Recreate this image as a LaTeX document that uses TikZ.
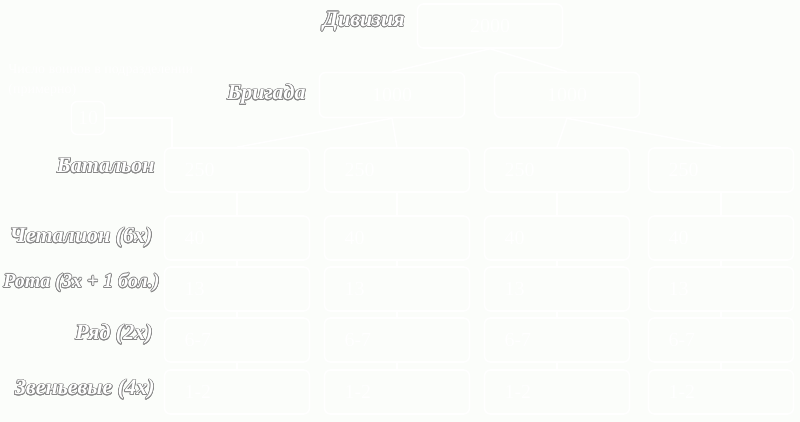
\documentclass[tikz,border=0pt]{standalone}
\usepackage{fontspec}
\setmainfont{Liberation Serif}
\usepackage{contour}
\contourlength{0.35pt}
\definecolor{bgc}{RGB}{251,253,250}
\definecolor{lbl}{RGB}{135,135,135}
\begin{document}
\begin{tikzpicture}[x=0.5pt,y=-0.5pt,
  box/.style={draw=white,line width=0.8pt,rounded corners=3pt,minimum width=72.5pt,minimum height=22pt,text=white,font=\fontsize{10}{12}\selectfont},
  lbox/.style={box,text width=52.5pt,align=left,inner xsep=10pt},
  conn/.style={draw=white,line width=0.8pt},
  rowlabel/.style={anchor=east,inner sep=0pt,font=\fontsize{11}{13}\selectfont\bfseries\itshape}]
\fill[bgc] (0,0) rectangle (800,422);
\useasboundingbox (0,0) rectangle (800,422);
% level labels
\node[rowlabel] (l1) at (405,22) {\contour{lbl}{\textcolor{white}{Дивизия}}};
\node[rowlabel] (l2) at (306,95) {\contour{lbl}{\textcolor{white}{Бригада}}};
\node[rowlabel] (l3) at (155,166) {\contour{lbl}{\textcolor{white}{Батальон}}};
\node[rowlabel] (l4) at (153,238) {\contour{lbl}{\textcolor{white}{Четалион (6x)}}};
\node[rowlabel,font=\fontsize{10}{12}\selectfont\bfseries\itshape] (l5) at (160,283) {\contour{lbl}{\textcolor{white}{Рота (3x + 1 бол.)}}};
\node[rowlabel] (l6) at (153,335) {\contour{lbl}{\textcolor{white}{Ряд (2x)}}};
\node[rowlabel] (l7) at (155,390) {\contour{lbl}{\textcolor{white}{Звеньевые (4x)}}};
% legend
\node[anchor=north west,inner sep=0pt,text=white,align=left,font=\fontsize{7}{10}\selectfont] (legend) at (8,64) {Число воинов в подразделении\\(примерно)};
\node[draw=white,line width=0.8pt,rounded corners=3pt,minimum width=15pt,minimum height=16.5pt,text=white,font=\fontsize{10}{12}\selectfont] (ten) at (88,118) {10};
% boxes
\node[box] (d) at (490,26) {2000};
\node[box,minimum height=22.5pt] (ba) at (392,95) {1000};
\node[box,minimum height=22.5pt] (bb) at (567,95) {1000};
\foreach \c/\x in {a/237,b/397,c/557,d/721}{
  \node[lbox] (r3\c) at (\x,170) {250};
  \node[lbox] (r4\c) at (\x,238) {40};
  \node[lbox] (r5\c) at (\x,289) {13};
  \node[lbox] (r6\c) at (\x,340) {6-7};
  \node[lbox] (r7\c) at (\x,392) {1-2};
}
% connectors
\draw[conn] (d.south) -- (ba.north);
\draw[conn] (d.south) -- (bb.north);
\draw[conn] (ba.south) -- (r3a.north);
\draw[conn] (ba.south) -- (r3b.north);
\draw[conn] (bb.south) -- (r3c.north);
\draw[conn] (bb.south) -- (r3d.north);
\coordinate (tenend) at (172,148);
\draw[conn] (ten.east) -| (tenend);
\foreach \c in {a,b,c,d}{
  \draw[conn] (r3\c.south) -- (r4\c.north);
  \draw[conn] (r4\c.south) -- (r5\c.north);
  \draw[conn] (r5\c.south) -- (r6\c.north);
  \draw[conn] (r6\c.south) -- (r7\c.north);
}
\end{tikzpicture}
\end{document}
